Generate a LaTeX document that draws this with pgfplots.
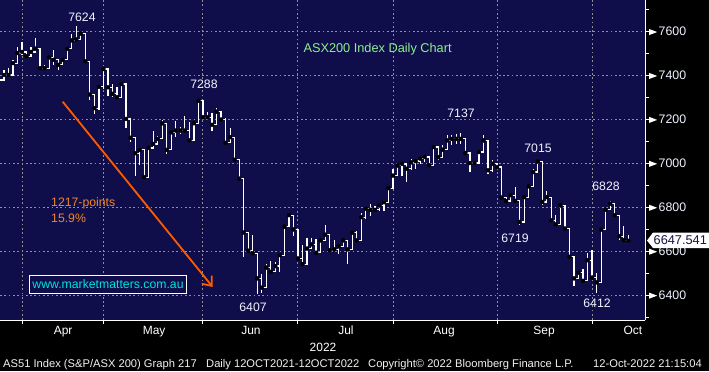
\documentclass[border=0pt]{standalone}
\usepackage{pgfplots}
\pgfplotsset{compat=1.18}
\usepackage{pgfplotstable}
\usepackage{fontspec}
\setmainfont{Liberation Sans}
\usetikzlibrary{arrows.meta}
\definecolor{bgnavy}{RGB}{15,14,74}
\definecolor{gridgray}{RGB}{145,145,145}
\definecolor{orarrow}{RGB}{255,90,0}
\definecolor{ortext}{RGB}{240,135,40}
\definecolor{cyantext}{RGB}{0,225,225}
\definecolor{greentext}{RGB}{140,240,140}
\definecolor{lbl}{RGB}{240,244,255}
\definecolor{tagtext}{RGB}{20,20,70}

\pgfplotstableread{
i h l c
-5 7385 7349 7380
-4 7426 7395 7403
-3 7434 7400 7403
-2 7472 7403 7457
-1 7531 7457 7503
0 7554 7495 7508
1 7508 7485 7488
2 7529 7488 7508
3 7572 7503 7523
4 7523 7434 7434
5 7450 7425 7434
6 7488 7434 7483
7 7518 7449 7472
8 7472 7426 7449
9 7480 7449 7472
10 7522 7472 7522
11 7588 7522 7560
12 7624 7560 7565
13 7600 7560 7591
14 7591 7465 7465
15 7465 7288 7314
16 7314 7226 7252
17 7349 7242 7349
18 7430 7340 7430
19 7430 7309 7347
20 7362 7302 7317
21 7347 7302 7302
22 7367 7302 7362
23 7362 7162 7203
24 7203 7097 7117
25 7117 6945 7047
26 7062 6991 7062
27 7062 6938 6938
28 7074 6938 7071
29 7150 7071 7089
30 7127 7089 7112
31 7200 7112 7183
32 7183 7041 7062
33 7150 7062 7142
34 7195 7120 7150
35 7165 7135 7150
36 7218 7142 7150
37 7188 7105 7105
38 7188 7105 7183
39 7288 7183 7286
40 7286 7203 7211
41 7233 7203 7211
42 7230 7150 7176
43 7253 7176 7236
44 7236 7198 7200
45 7208 7085 7094
46 7162 7094 7120
47 7120 7017 7017
48 7017 6931 6931
49 6931 6573 6686
50 6686 6595 6603
51 6674 6591 6591
52 6591 6407 6477
53 6495 6412 6435
54 6542 6435 6526
55 6557 6500 6507
56 6553 6507 6533
57 6586 6507 6583
58 6719 6583 6712
59 6765 6712 6765
60 6765 6671 6700
61 6700 6568 6568
62 6628 6542 6542
63 6659 6542 6613
64 6659 6612 6632
65 6655 6594 6594
66 6650 6594 6650
67 6718 6650 6676
68 6676 6605 6605
69 6650 6600 6609
70 6623 6589 6623
71 6658 6620 6650
72 6650 6544 6609
73 6685 6609 6685
74 6695 6642 6650
75 6776 6650 6756
76 6794 6748 6794
77 6817 6761 6789
78 6805 6782 6789
79 6812 6786 6809
80 6832 6786 6824
81 6888 6824 6888
82 6973 6888 6945
83 6991 6945 6991
84 6998 6945 6998
85 6998 6918 6976
86 7022 6971 7005
87 7017 6975 7011
88 7030 6996 7022
89 7033 7007 7030
90 7030 6992 6992
91 7075 6992 7075
92 7075 7014 7029
93 7082 7029 7063
94 7128 7063 7105
95 7132 7082 7112
96 7135 7090 7112
97 7137 7090 7112
98 7112 7045 7048
99 7048 6962 7002
100 7011 6996 7002
101 7052 7002 7052
102 7132 7052 7105
103 7105 6954 6969
104 7017 6962 6999
105 6999 6981 6984
106 6984 6841 6845
107 6845 6826 6829
108 6856 6826 6856
109 6891 6830 6830
110 6830 6719 6734
111 6847 6729 6847
112 6896 6847 6896
113 6976 6896 6961
114 7015 6961 7009
115 7009 6813 6825
116 6875 6825 6847
117 6847 6741 6741
118 6764 6723 6723
119 6809 6723 6809
120 6809 6704 6704
121 6704 6575 6575
122 6575 6442 6477
123 6507 6477 6503
124 6518 6466 6466
125 6593 6466 6560
126 6605 6481 6481
127 6500 6412 6459
128 6699 6459 6699
129 6790 6699 6790
130 6828 6790 6817
131 6817 6760 6764
132 6764 6654 6669
133 6714 6648 6651
134 6673 6639 6648
}\ohlc

\begin{document}
\begin{tikzpicture}[x=1bp,y=1bp]
\fill[black] (0,0) rectangle (709,371);
\path[use as bounding box] (0,0) rectangle (709,371);
\begin{axis}[
  at={(0bp,51bp)}, anchor=south west,
  scale only axis, width=645bp, height=320bp,
  xmin=-4.863, xmax=137.7, ymin=6287.6, ymax=7744.3,
  axis background/.style={fill=bgnavy},
  axis x line*=bottom, axis y line*=right,
  axis line style={draw=white, line width=1bp, -},
  /pgf/number format/assume math mode=true,
  xtick={0,18,40,61,82,105,126}, xticklabels={},
  extra x ticks={9.1,29.2,50.6,71.6,93.3,115.4,135},
  extra x tick labels={Apr,May,Jun,Jul,Aug,Sep,Oct},
  extra x tick style={grid=none, major tick length=0pt,
     xticklabel style={anchor=base, yshift=-14.5bp, text=white, font=\fontsize{12}{14}\selectfont}},
  ytick={6400,6600,...,7600},
  minor ytick={6300,6500,...,7700},
  grid=major,
  major grid style={draw=gridgray, line width=1bp, dash pattern=on 1.7bp off 2.6bp},
  tick style={draw=white, line width=1bp},
  major tick length=4bp, minor tick length=4bp,
  tick align=outside,
  yticklabel pos=right,
  yticklabel={\tikz[baseline=-0.6ex]\fill[white] (0,-3bp)--(8bp,0)--(0,3bp)--cycle;\hspace{1.5bp}\pgfmathprintnumber[1000 sep={}]{\tick}},
  yticklabel style={anchor=west, inner sep=0pt, text=lbl, font=\fontsize{12.4}{14}\selectfont},
  clip=true,
]
\addplot[white, line width=1.2bp, const plot mark left, mark=none] table[x=i, y=c] {\ohlc};
\addplot[forget plot, only marks, mark=none,
  error bars/.cd, y dir=both, y explicit, error mark=none,
  error bar style={draw=white, line width=1.2bp, solid}]
  table[x=i, y=c, y error plus expr=\thisrow{h}-\thisrow{c}, y error minus expr=\thisrow{c}-\thisrow{l}] {\ohlc};
\end{axis}

% labels
\begin{scope}[every node/.style={text=lbl, font=\fontsize{12.3}{14}\selectfont, inner sep=0pt}]
\node at (82,353.8) {7624};
\node at (204,286.3) {7288};
\node at (461,258) {7137};
\node at (538,223) {7015};
\node at (606,185) {6828};
\node at (515,132.7) {6719};
\node at (253,64) {6407};
\node at (597,68) {6412};
\end{scope}

\node[text=greentext, font=\fontsize{12.8}{15}\selectfont, inner sep=0pt, anchor=base west] at (303.3,318.5) {ASX200 Index Daily Chart};

\node[text=ortext, font=\fontsize{12.3}{14}\selectfont, inner sep=0pt, anchor=base west] at (51,165) {1217-points};
\node[text=ortext, font=\fontsize{12.3}{14}\selectfont, inner sep=0pt, anchor=base west] at (51,148.5) {15.9\%};

\draw[orarrow, line width=1.8bp, -{Straight Barb[length=8bp, width=13bp, line width=1.8bp]}] (62.7,269.3) -- (212.7,84);

\draw[white, line width=1bp, fill=bgnavy] (29.3,77.7) rectangle (186.7,95.3);
\node[text=cyantext, font=\fontsize{12.3}{14}\selectfont, inner sep=0pt] at (108,86.5) {www.marketmatters.com.au};

% price tag
\fill[white] (647,130.5) -- (653,138.5) -- (709,138.5) -- (709,123) -- (653,123) -- cycle;
\node[text=tagtext, font=\fontsize{12.8}{14}\selectfont, inner sep=0pt, anchor=west] at (653.5,130.5) {6647.541};

% bottom
\node[text=white, font=\fontsize{12}{14}\selectfont, inner sep=0pt, anchor=base] at (323,19.5) {2022};
\begin{scope}[every node/.style={text=white!90!gray, font=\fontsize{11.2}{13}\selectfont, inner sep=0pt, anchor=base west}]
\node at (3,4) {AS51 Index (S\&P/ASX 200) Graph 217};
\node at (206,4) {Daily 12OCT2021-12OCT2022};
\node at (368,4) {Copyright© 2022 Bloomberg Finance L.P.};
\node at (593,4) {12-Oct-2022 21:15:04};
\end{scope}
\end{tikzpicture}
\end{document}
